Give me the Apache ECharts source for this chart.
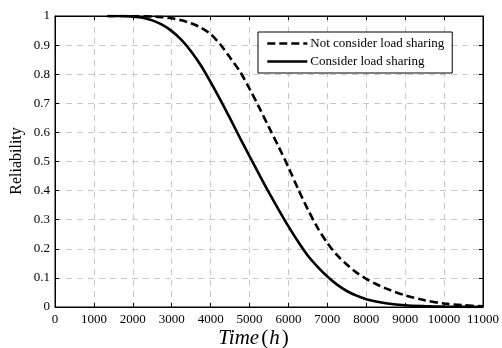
<!DOCTYPE html>
<html>
<head>
<meta charset="utf-8">
<script src="https://cdn.jsdelivr.net/npm/echarts@6/dist/echarts.min.js"></script>
<style>
  html, body { margin: 0; padding: 0; background: #fff; }
  #chart { width: 502px; height: 348px; }
</style>
</head>
<body>
<div id="chart"></div>
<script>
// Operating time (h) at which reliability was evaluated
const hours = [1350, 1750, 2000, 2250, 2500, 2750, 3000, 3250, 3500, 3750, 4000,
  4250, 4500, 4750, 5000, 5250, 5500, 5750, 6000, 6250, 6500, 6750, 7000,
  7250, 7500, 7750, 8000, 8250, 8500, 9000, 9500, 10000, 10500, 11000];

// Reliability ignoring load sharing between components
const notConsider = [1.0, 1.0, 1.0, 0.999, 0.998, 0.996, 0.992, 0.985, 0.975, 0.96, 0.938,
  0.902, 0.857, 0.81, 0.75, 0.685, 0.617, 0.55, 0.48, 0.405, 0.335, 0.272, 0.22,
  0.178, 0.146, 0.118, 0.097, 0.079, 0.064, 0.04, 0.023, 0.012, 0.006, 0.002];

// Reliability with load sharing taken into account
const consider = [1.0, 1.0, 0.998, 0.994, 0.985, 0.97, 0.948, 0.918, 0.878, 0.83, 0.773,
  0.712, 0.648, 0.582, 0.518, 0.455, 0.393, 0.334, 0.277, 0.224, 0.176, 0.138, 0.105,
  0.077, 0.055, 0.039, 0.027, 0.019, 0.013, 0.006, 0.003, 0.0012, 0.0005, 0.0002];

const seriesNames = ['Not consider load sharing', 'Consider load sharing'];

const xMin = 0, xMax = 11000, xStep = 1000;
const yMin = 0, yMax = 1, yStep = 0.1;

const serif = 'Liberation Serif, Times New Roman, serif';

const gridLine = { show: true, lineStyle: { color: '#c8c8c8', width: 1, type: [6, 5] } };
const tickIn = { show: true, inside: true, length: 4, lineStyle: { color: '#000', width: 1 } };
const hidden = 'rgba(0,0,0,0)';

const chart = echarts.init(document.getElementById('chart'), null, { renderer: 'canvas' });

chart.setOption({
  animation: false,
  backgroundColor: '#fff',
  grid: {
    left: 55, top: 16, width: 429, height: 291,
    show: true, borderColor: '#000', borderWidth: 1, backgroundColor: 'transparent'
  },
  legend: {
    orient: 'vertical',
    left: 258, top: 32,
    padding: [5, 8, 5, 8],
    itemGap: 5,
    itemWidth: 40, itemHeight: 14,
    backgroundColor: '#fff',
    borderColor: '#000', borderWidth: 1, borderRadius: 0,
    // only the line sample is shown, no marker on it
    itemStyle: { color: hidden, borderColor: hidden, borderWidth: 0, opacity: 0 },
    lineStyle: { width: 2.6, color: '#000' },
    textStyle: { fontFamily: serif, fontSize: 13, color: '#000', padding: [0, 0, 0, -2] },
    data: seriesNames
  },
  xAxis: [
    {
      type: 'value', min: xMin, max: xMax, interval: xStep, position: 'bottom',
      axisLine: { show: true, onZero: false, lineStyle: { color: '#000', width: 1 } },
      axisTick: tickIn,
      axisLabel: { color: '#000', fontFamily: serif, fontSize: 13, margin: 6,
        formatter: v => String(v) },
      splitLine: gridLine
    },
    {
      type: 'value', min: xMin, max: xMax, interval: xStep, position: 'top',
      axisLine: { show: true, onZero: false, lineStyle: { color: '#000', width: 1 } },
      axisTick: tickIn,
      axisLabel: { show: false },
      splitLine: { show: false }
    }
  ],
  yAxis: [
    {
      type: 'value', min: yMin, max: yMax, interval: yStep, position: 'left',
      axisLine: { show: true, onZero: false, lineStyle: { color: '#000', width: 1 } },
      axisTick: tickIn,
      axisLabel: { color: '#000', fontFamily: serif, fontSize: 13, margin: 5,
        formatter: v => String(Math.round(v * 10) / 10) },
      splitLine: gridLine
    },
    {
      type: 'value', min: yMin, max: yMax, interval: yStep, position: 'right',
      axisLine: { show: true, onZero: false, lineStyle: { color: '#000', width: 1 } },
      axisTick: tickIn,
      axisLabel: { show: false },
      splitLine: { show: false }
    }
  ],
  series: [
    {
      name: seriesNames[0],
      type: 'line',
      xAxisIndex: 0, yAxisIndex: 0,
      data: hours.map((h, i) => [h, notConsider[i]]),
      symbol: 'none',
      smooth: 0.3,
      lineStyle: { color: '#000', width: 2.6, type: [8, 4] },
      itemStyle: { color: '#000' },
      z: 3
    },
    {
      name: seriesNames[1],
      type: 'line',
      xAxisIndex: 0, yAxisIndex: 0,
      data: hours.map((h, i) => [h, consider[i]]),
      symbol: 'none',
      smooth: 0.3,
      lineStyle: { color: '#000', width: 2.6, type: 'solid' },
      itemStyle: { color: '#000' },
      z: 3
    }
  ],
  graphic: [
    {
      type: 'text',
      x: 17, y: 161,
      rotation: Math.PI / 2,
      style: {
        text: 'Reliability',
        fontFamily: serif, fontSize: 16, fill: '#000',
        align: 'center', verticalAlign: 'middle'
      }
    },
    {
      type: 'text',
      x: 254, y: 338,
      style: {
        text: '{i|Time}{n|(}{i|h}{n|)}',
        align: 'center', verticalAlign: 'middle',
        rich: {
          i: { fontFamily: serif, fontSize: 21, fontStyle: 'italic', fill: '#000' },
          n: { fontFamily: serif, fontSize: 21, fill: '#000', padding: [0, 1, 0, 2] }
        }
      }
    }
  ]
});
</script>
</body>
</html>
